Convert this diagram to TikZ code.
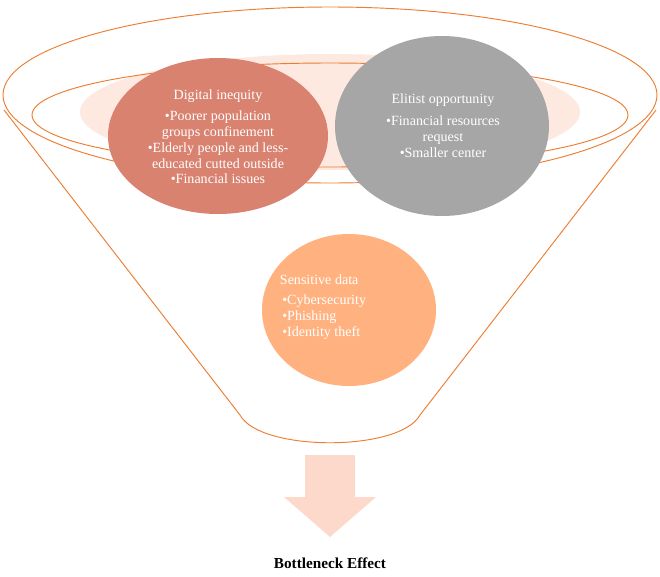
\documentclass[tikz,border=0pt]{standalone}
\usepackage{fontspec}
\setmainfont{Liberation Serif}
\definecolor{funnelline}{HTML}{ED7D31}
\definecolor{paleorange}{HTML}{FDE9E0}
\definecolor{arrowpink}{HTML}{FDD9CC}
\definecolor{redcirc}{HTML}{D98270}
\definecolor{graycirc}{HTML}{A6A6A6}
\definecolor{orangecirc}{HTML}{FFB27F}
\tikzset{
  rim/.style={draw=funnelline, line width=0.8pt},
  bubble/.style={white, font=\fontsize{12}{13.6}\selectfont, align=center},
}
\begin{document}
\begin{tikzpicture}[x=0.03cm,y=-0.03cm]
\useasboundingbox (0,0) rectangle (660,576);

% funnel body
\draw[rim, fill=white] (4,110) -- (240,415) .. controls (260,452) and (400,452) .. (420,415) -- (656,110);
\draw[rim, fill=white] (330,95) ellipse [x radius=327, y radius=88];
\fill[paleorange] (330,112) ellipse [x radius=250, y radius=58];
\draw[rim] (330,115) ellipse [x radius=298, y radius=52];

% outlet arrow
\fill[arrowpink] (305,455) -- (355,455) -- (355,497) -- (376,497) -- (330,537) -- (284,497) -- (305,497) -- cycle;

% bubbles
\fill[redcirc] (218,136) ellipse [x radius=110, y radius=78];
\fill[graycirc] (442,126) ellipse [x radius=107, y radius=90];
\fill[orangecirc] (349,310) ellipse [x radius=87, y radius=76];

\node[bubble] (inequity) at (218,137) {Digital inequity\\[4pt]
  \textbullet Poorer population\\ groups confinement\\
  \textbullet Elderly people and less-\\ educated cutted outside\\
  \textbullet Financial issues};
\node[bubble] (elitist) at (443,126) {Elitist opportunity\\[5pt]
  \textbullet Financial resources\\ request\\ \textbullet Smaller center};
\node[bubble, align=left] (sensitive) at (323,307) {Sensitive data\\[4pt]
  \,\textbullet Cybersecurity\\ \,\textbullet Phishing\\ \,\textbullet Identity theft};

\node[font=\bfseries\fontsize{13}{15}\selectfont] (title) at (330,563) {Bottleneck Effect};
\end{tikzpicture}
\end{document}
